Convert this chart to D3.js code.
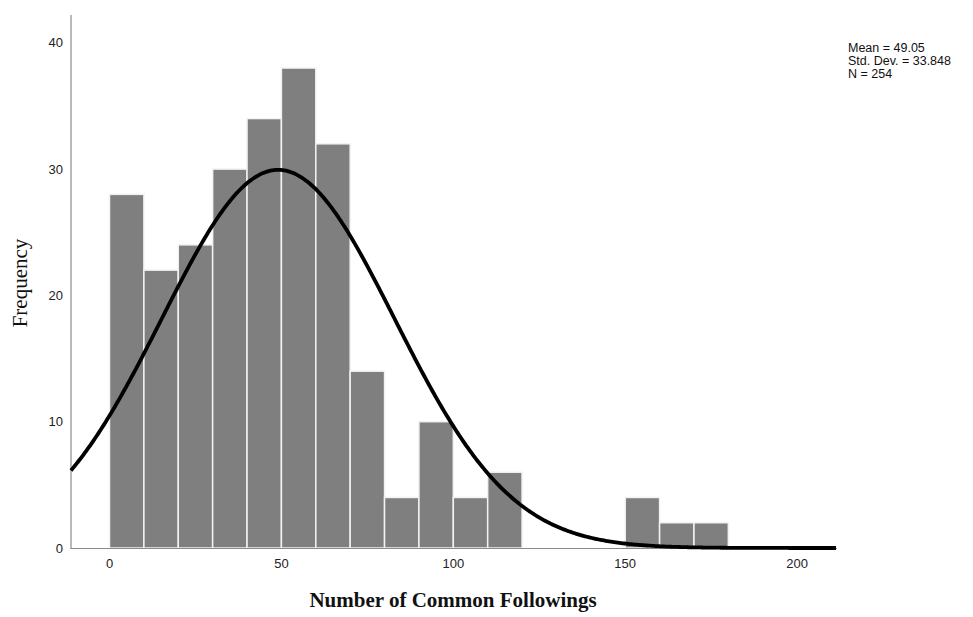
<!DOCTYPE html>
<html>
<head>
<meta charset="utf-8">
<script src="https://cdn.jsdelivr.net/npm/d3@7"></script>
<style>
  html, body { margin: 0; padding: 0; background: #fff; }
  svg { display: block; }
</style>
</head>
<body>
<svg id="chart" width="973" height="617"></svg>
<script>
// Histogram bins (width 10) and their counts
const binStarts = [0, 10, 20, 30, 40, 50, 60, 70, 80, 90, 100, 110, 120, 130, 140, 150, 160, 170];
const binCounts = [28, 22, 24, 30, 34, 38, 32, 14, 4, 10, 4, 6, 0, 0, 0, 4, 2, 2];
const binWidth = 10;

const xTicks = [0, 50, 100, 150, 200];
const yTicks = [0, 10, 20, 30, 40];

const statLines = ["Mean = 49.05", "Std. Dev. = 33.848", "N = 254"];
const mean = 49.05, sd = 33.848, n = 254;

const svg = d3.select("#chart");

const x = d3.scaleLinear().domain([-11.2, 211.6]).range([71, 837]);
const y = d3.scaleLinear().domain([0, 42.2]).range([548, 15]);

// Bars
svg.append("g")
  .selectAll("rect")
  .data(binStarts.map((s, i) => ({ s, c: binCounts[i] })).filter(d => d.c > 0))
  .join("rect")
  .attr("x", d => x(d.s))
  .attr("y", d => y(d.c))
  .attr("width", d => x(d.s + binWidth) - x(d.s))
  .attr("height", d => y(0) - y(d.c))
  .attr("fill", "#7f7f7f")
  .attr("stroke", "#f2f2f2")
  .attr("stroke-width", 1.5);

// Axis lines
svg.append("line")
  .attr("x1", 71).attr("x2", 71).attr("y1", 15).attr("y2", 548.5)
  .attr("stroke", "#8a8a8a").attr("stroke-width", 1.2);
svg.append("line")
  .attr("x1", 70.5).attr("x2", 837).attr("y1", 548.5).attr("y2", 548.5)
  .attr("stroke", "#8a8a8a").attr("stroke-width", 1.2);

// Tick labels
svg.append("g")
  .selectAll("text")
  .data(yTicks)
  .join("text")
  .attr("x", 63)
  .attr("y", d => y(d))
  .attr("dy", "0.35em")
  .attr("text-anchor", "end")
  .attr("font-family", "Liberation Sans, Arial, sans-serif")
  .attr("font-size", 13)
  .attr("fill", "#222")
  .text(d => d);

svg.append("g")
  .selectAll("text")
  .data(xTicks)
  .join("text")
  .attr("x", d => x(d))
  .attr("y", 568)
  .attr("text-anchor", "middle")
  .attr("font-family", "Liberation Sans, Arial, sans-serif")
  .attr("font-size", 13)
  .attr("fill", "#222")
  .text(d => d);

// Normal curve scaled to counts
const pdf = v => Math.exp(-0.5 * ((v - mean) / sd) ** 2) / (sd * Math.sqrt(2 * Math.PI));
const curvePts = d3.range(-11.2, 211.61, 0.5).map(v => [v, n * binWidth * pdf(v)]);
svg.append("path")
  .datum(curvePts)
  .attr("fill", "none")
  .attr("stroke", "#000")
  .attr("stroke-width", 3.8)
  .attr("d", d3.line().x(d => x(d[0])).y(d => y(d[1])));

// Axis titles
svg.append("text")
  .attr("transform", "translate(27,283) rotate(-90)")
  .attr("text-anchor", "middle")
  .attr("font-family", "Liberation Serif, Times New Roman, serif")
  .attr("font-size", 21)
  .attr("fill", "#111")
  .text("Frequency");

svg.append("text")
  .attr("x", 453)
  .attr("y", 607)
  .attr("text-anchor", "middle")
  .attr("font-family", "Liberation Serif, Times New Roman, serif")
  .attr("font-weight", "bold")
  .attr("font-size", 21)
  .attr("fill", "#111")
  .text("Number of Common Followings");

// Summary statistics
svg.append("g")
  .selectAll("text")
  .data(statLines)
  .join("text")
  .attr("x", 848)
  .attr("y", (d, i) => 52 + i * 13)
  .attr("font-family", "Liberation Sans, Arial, sans-serif")
  .attr("font-size", 12.5)
  .attr("fill", "#111")
  .text(d => d);
</script>
</body>
</html>
